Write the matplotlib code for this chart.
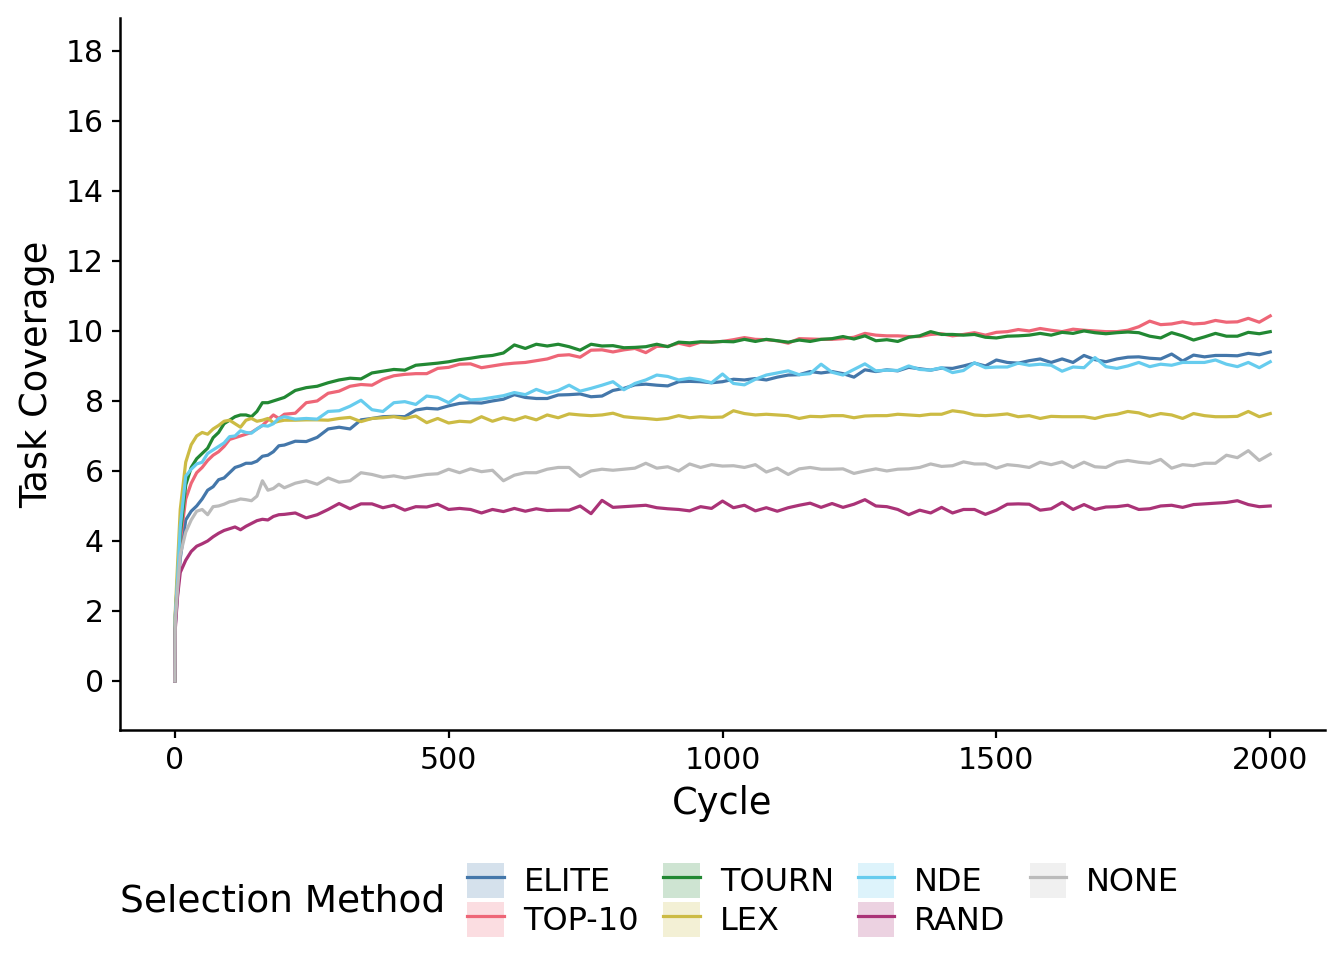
import matplotlib
matplotlib.use("Agg")
import matplotlib.pyplot as plt
from matplotlib.patches import Patch
from matplotlib.lines import Line2D

cycles = [0, 1, 5] + list(range(10, 200, 10)) + list(range(200, 2001, 20))

methods = ["ELITE", "TOP-10", "TOURN", "LEX", "NDE", "RAND", "NONE"]
colors = ["#4477AA", "#EE6677", "#228833", "#CCBB44", "#66CCEE", "#AA3377", "#BBBBBB"]

elite = [0, 1.6, 2.5, 3.5, 4.6, 4.85, 5.0, 5.2, 5.45, 5.55, 5.75, 5.8, 5.95, 6.1, 6.15, 6.22, 6.22, 6.28, 6.42, 6.45, 6.55, 6.72, 6.74,
         6.85, 6.84, 6.96, 7.2, 7.25, 7.2, 7.46, 7.5, 7.55, 7.56,
         7.55, 7.74, 7.79, 7.77, 7.86, 7.93, 7.95, 7.94, 8.0, 8.05,
         8.18, 8.1, 8.07, 8.07, 8.17, 8.18, 8.2, 8.12, 8.14, 8.3,
         8.36, 8.46, 8.48, 8.45, 8.43, 8.55, 8.56, 8.55, 8.52, 8.55,
         8.62, 8.6, 8.64, 8.6, 8.68, 8.74, 8.75, 8.84, 8.8, 8.84,
         8.78, 8.68, 8.89, 8.84, 8.89, 8.86, 8.96, 8.92, 8.88, 8.94,
         8.93, 9.0, 9.08, 9.0, 9.17, 9.1, 9.08, 9.15, 9.2, 9.1,
         9.2, 9.1, 9.3, 9.18, 9.12, 9.2, 9.25, 9.26, 9.22, 9.2,
         9.34, 9.14, 9.31, 9.26, 9.3, 9.3, 9.29, 9.36, 9.32, 9.4]

top10 = [0, 1.8, 2.8, 4.0, 5.2, 5.65, 5.95, 6.1, 6.3, 6.45, 6.55, 6.7, 6.9, 6.95, 7.0, 7.05, 7.1, 7.2, 7.3, 7.45, 7.6, 7.5, 7.62,
         7.65, 7.95, 8.0, 8.22, 8.28, 8.42, 8.47, 8.45, 8.62, 8.72,
         8.76, 8.78, 8.78, 8.93, 8.96, 9.05, 9.06, 8.95, 9.0, 9.05,
         9.08, 9.1, 9.15, 9.2, 9.3, 9.32, 9.25, 9.45, 9.46, 9.4,
         9.46, 9.5, 9.38, 9.56, 9.56, 9.65, 9.58, 9.68, 9.68, 9.7,
         9.75, 9.81, 9.76, 9.75, 9.72, 9.65, 9.78, 9.77, 9.76, 9.76,
         9.78, 9.82, 9.93, 9.88, 9.86, 9.86, 9.84, 9.84, 9.9, 9.92,
         9.86, 9.9, 9.95, 9.88, 9.96, 9.98, 10.04, 10.0, 10.07, 10.02,
         9.98, 10.05, 10.02, 10.0, 9.98, 9.98, 10.02, 10.12, 10.28, 10.18,
         10.2, 10.26, 10.2, 10.22, 10.3, 10.25, 10.26, 10.36, 10.25, 10.43]

tourn = [0, 1.9, 2.9, 4.2, 5.6, 6.1, 6.35, 6.5, 6.65, 6.95, 7.1, 7.35, 7.45, 7.55, 7.6, 7.6, 7.55, 7.7, 7.95, 7.95, 8.0, 8.05, 8.1,
         8.3, 8.38, 8.42, 8.52, 8.6, 8.65, 8.63, 8.8, 8.85, 8.9,
         8.88, 9.02, 9.05, 9.08, 9.12, 9.18, 9.22, 9.27, 9.3, 9.37,
         9.6, 9.5, 9.62, 9.57, 9.62, 9.55, 9.45, 9.62, 9.57, 9.58,
         9.52, 9.53, 9.55, 9.62, 9.55, 9.68, 9.66, 9.69, 9.68, 9.7,
         9.69, 9.76, 9.7, 9.76, 9.72, 9.68, 9.74, 9.7, 9.76, 9.78,
         9.84, 9.77, 9.86, 9.72, 9.75, 9.7, 9.82, 9.86, 9.98, 9.9,
         9.9, 9.88, 9.9, 9.82, 9.8, 9.85, 9.86, 9.88, 9.93, 9.88,
         9.96, 9.93, 10.0, 9.95, 9.92, 9.95, 9.97, 9.95, 9.85, 9.8,
         9.95, 9.86, 9.74, 9.83, 9.93, 9.85, 9.85, 9.96, 9.92, 9.98]

lex = [0, 2.0, 3.3, 4.9, 6.25, 6.75, 7.0, 7.1, 7.05, 7.2, 7.3, 7.42, 7.45, 7.35, 7.25, 7.45, 7.5, 7.42, 7.45, 7.5, 7.38, 7.42, 7.45,
       7.45, 7.46, 7.46, 7.45, 7.5, 7.53, 7.41, 7.5, 7.52, 7.55,
       7.5, 7.57, 7.38, 7.5, 7.37, 7.42, 7.4, 7.55, 7.42, 7.52,
       7.45, 7.55, 7.46, 7.6, 7.52, 7.63, 7.6, 7.58, 7.6, 7.65,
       7.55, 7.52, 7.5, 7.47, 7.5, 7.58, 7.52, 7.55, 7.53, 7.54,
       7.72, 7.64, 7.6, 7.62, 7.6, 7.58, 7.5, 7.56, 7.55, 7.58,
       7.58, 7.52, 7.57, 7.58, 7.58, 7.62, 7.6, 7.58, 7.62, 7.62,
       7.72, 7.68, 7.6, 7.58, 7.6, 7.63, 7.55, 7.58, 7.5, 7.56,
       7.55, 7.55, 7.55, 7.5, 7.58, 7.62, 7.7, 7.66, 7.56, 7.64,
       7.6, 7.5, 7.64, 7.58, 7.55, 7.55, 7.56, 7.7, 7.55, 7.64]

nde = [0, 1.85, 2.9, 4.4, 5.85, 6.05, 6.2, 6.25, 6.5, 6.6, 6.7, 6.8, 6.98, 7.0, 7.15, 7.1, 7.08, 7.2, 7.3, 7.28, 7.35, 7.5, 7.55,
       7.48, 7.5, 7.48, 7.7, 7.72, 7.85, 8.02, 7.75, 7.7, 7.95,
       7.98, 7.9, 8.14, 8.1, 7.95, 8.17, 8.03, 8.05, 8.1, 8.15,
       8.24, 8.18, 8.33, 8.22, 8.3, 8.45, 8.28, 8.36, 8.45, 8.55,
       8.32, 8.5, 8.6, 8.74, 8.7, 8.6, 8.65, 8.6, 8.52, 8.77,
       8.5, 8.46, 8.62, 8.74, 8.8, 8.86, 8.75, 8.78, 9.05, 8.82,
       8.74, 8.9, 9.06, 8.86, 8.88, 8.87, 9.0, 8.9, 8.88, 8.95,
       8.81, 8.87, 9.09, 8.95, 8.97, 8.97, 9.08, 9.02, 9.05, 9.02,
       8.85, 8.97, 8.95, 9.24, 8.98, 8.93, 9.0, 9.1, 8.98, 9.05,
       9.02, 9.1, 9.1, 9.1, 9.17, 9.05, 8.98, 9.1, 8.95, 9.12]

rand = [0, 1.5, 2.4, 3.1, 3.45, 3.7, 3.85, 3.92, 4.0, 4.12, 4.22, 4.3, 4.35, 4.4, 4.32, 4.42, 4.5, 4.58, 4.62, 4.6, 4.7, 4.75, 4.76,
        4.8, 4.66, 4.75, 4.9, 5.07, 4.92, 5.06, 5.06, 4.95, 5.02,
        4.88, 4.98, 4.97, 5.05, 4.9, 4.93, 4.9, 4.8, 4.9, 4.84,
        4.93, 4.85, 4.92, 4.87, 4.88, 4.88, 5.0, 4.78, 5.16, 4.96,
        4.98, 5.0, 5.02, 4.95, 4.92, 4.9, 4.86, 4.98, 4.93, 5.14,
        4.95, 5.02, 4.86, 4.95, 4.85, 4.95, 5.02, 5.08, 4.96, 5.07,
        4.96, 5.05, 5.18, 5.0, 4.98, 4.9, 4.75, 4.88, 4.8, 4.96,
        4.8, 4.9, 4.9, 4.76, 4.88, 5.05, 5.06, 5.05, 4.88, 4.92,
        5.1, 4.9, 5.04, 4.9, 4.97, 4.98, 5.02, 4.9, 4.92, 5.0,
        5.02, 4.96, 5.04, 5.06, 5.08, 5.1, 5.15, 5.04, 4.98, 5.0]

none = [0, 1.7, 2.6, 3.6, 4.25, 4.6, 4.85, 4.9, 4.75, 4.98, 5.0, 5.05, 5.12, 5.15, 5.2, 5.18, 5.15, 5.28, 5.72, 5.45, 5.5, 5.62, 5.52,
        5.65, 5.72, 5.62, 5.8, 5.68, 5.72, 5.95, 5.9, 5.82, 5.86,
        5.8, 5.85, 5.9, 5.92, 6.05, 5.95, 6.06, 5.98, 6.02, 5.72,
        5.88, 5.95, 5.95, 6.05, 6.1, 6.1, 5.84, 6.0, 6.05, 6.02,
        6.05, 6.08, 6.22, 6.08, 6.12, 6.0, 6.2, 6.1, 6.18, 6.14,
        6.15, 6.1, 6.18, 5.97, 6.08, 5.9, 6.06, 6.1, 6.05, 6.05,
        6.06, 5.93, 6.0, 6.06, 6.0, 6.05, 6.06, 6.1, 6.2, 6.13,
        6.15, 6.26, 6.2, 6.2, 6.08, 6.18, 6.15, 6.1, 6.25, 6.18,
        6.26, 6.1, 6.25, 6.12, 6.1, 6.25, 6.3, 6.25, 6.22, 6.33,
        6.08, 6.18, 6.15, 6.22, 6.22, 6.45, 6.38, 6.58, 6.3, 6.48]

series = [elite, top10, tourn, lex, nde, rand, none]

y_ticks = list(range(0, 19, 2))
x_ticks = [0, 500, 1000, 1500, 2000]

plt.rcParams['font.family'] = ['DejaVu Sans']
fig = plt.figure(figsize=(13.44, 9.6), dpi=100)
ax = fig.add_axes([120/1344, 1-730/960, (1325-120)/1344, (730-18)/960])

for name, col, vals in zip(methods, colors, series):
    ax.plot(cycles, vals, color=col, lw=2.3, solid_joinstyle='round')

ax.set_xlim(-100, 2100)
ax.set_ylim(-1.4, 18.94)
ax.set_xticks(x_ticks)
ax.set_yticks(y_ticks)
ax.tick_params(axis='both', labelsize=21.5, length=5.5, width=1.6, color='black', labelcolor='black', pad=6)
for s in ['top', 'right']:
    ax.spines[s].set_visible(False)
for s in ['left', 'bottom']:
    ax.spines[s].set_linewidth(1.8)
    ax.spines[s].set_color('black')
ax.set_xlabel("Cycle", fontsize=26.5, labelpad=7)
ax.set_ylabel("Task Coverage", fontsize=26.5, labelpad=8)

handles = []
for col in colors:
    handles.append((Patch(facecolor=col, alpha=0.22, edgecolor='none'),
                    Line2D([], [], color=col, lw=2.3)))
leg = fig.legend(handles, methods, ncol=4, loc='center left',
                 bbox_to_anchor=(467/1344, 1-900/960), frameon=False,
                 fontsize=23, handlelength=1.15, handleheight=1.3,
                 handletextpad=0.62, columnspacing=0.75, labelspacing=0.12,
                 borderpad=0, borderaxespad=0)
fig.text(120/1344, 1-902/960, "Selection Method", fontsize=27, va='center', ha='left')

fig.savefig("out.png", dpi=100)
